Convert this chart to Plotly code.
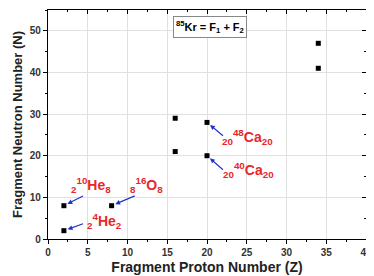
import plotly.graph_objects as go

# data
proton_z = [2, 2, 8, 16, 16, 20, 20, 34, 34]
neutron_n = [2, 8, 8, 21, 29, 20, 28, 41, 47]

# labelled fragments
label_texts = ["<sub>2</sub><sup>10</sup>He<sub>8</sub>", "<sub>2</sub><sup>4</sup>He<sub>2</sub>",
               "<sub>8</sub><sup>16</sup>O<sub>8</sub>", "<sub>20</sub><sup>48</sup>Ca<sub>20</sub>",
               "<sub>20</sub><sup>40</sup>Ca<sub>20</sub>"]
label_pt_x = [2, 2, 8, 20, 20]
label_pt_y = [8, 2, 8, 28, 20]
tail_x = [4.6, 4.6, 11.1, 22.2, 22.2]
tail_y = [10.5, 3.8, 10.5, 24.5, 16.3]
text_x = [2.6, 4.7, 10.0, 21.6, 21.8]
text_y = [13.0, 4.3, 13.0, 24.5, 16.6]

FONT = "Liberation Sans, Arial, sans-serif"

fig = go.Figure()
fig.add_trace(go.Scatter(x=proton_z, y=neutron_n, mode="markers",
                         marker=dict(symbol="square", size=5, color="black"),
                         showlegend=False, hoverinfo="skip"))
# invisible trace for the top/right mirrored axes
fig.add_trace(go.Scatter(x=[0], y=[0], xaxis="x2", yaxis="y2", mode="markers",
                         marker=dict(opacity=0), showlegend=False, hoverinfo="skip"))

for i in range(len(label_texts)):
    fig.add_annotation(x=label_pt_x[i], y=label_pt_y[i], ax=tail_x[i], ay=tail_y[i],
                       xref="x", yref="y", axref="x", ayref="y", text="",
                       showarrow=True, arrowhead=2, arrowsize=0.8, arrowwidth=1.2,
                       arrowcolor="#2233cc", standoff=4)
    fig.add_annotation(x=text_x[i], y=text_y[i], xref="x", yref="y", text=label_texts[i],
                       showarrow=False, xanchor="left", yanchor="middle",
                       font=dict(family=FONT, size=14, color="#e8262b", weight="bold"))

fig.add_annotation(x=20.4, y=50.8, xref="x", yref="y",
                   text="<sup>85</sup>Kr = F<sub>1</sub> + F<sub>2</sub>",
                   showarrow=False, font=dict(family=FONT, size=11, color="black", weight="bold"),
                   bordercolor="#888888", borderwidth=1, bgcolor="white", borderpad=2)

axis_common = dict(showline=True, linecolor="black", linewidth=1.2,
                   gridcolor="#e0e0e0", gridwidth=1, zeroline=False,
                   tickfont=dict(family=FONT, size=10, color="#333333", weight="bold"),
                   ticklen=4, tickwidth=1, tickcolor="black")

# page body has an 8px margin, so the figure is sized to fill the remaining window
fig.update_layout(
    width=366, height=268, paper_bgcolor="white", plot_bgcolor="white",
    margin=dict(l=40, r=4, t=2, b=37),
    xaxis=dict(range=[0, 40], dtick=5, ticks="outside", ticklabeloverflow="allow",
               minor=dict(dtick=2.5, ticks="outside", ticklen=2, tickcolor="black", showgrid=False),
               title=dict(text="Fragment Proton Number (Z)", standoff=5,
                          font=dict(family=FONT, size=14, color="#222222", weight="bold")),
               **axis_common),
    yaxis=dict(range=[0, 55], dtick=10, ticks="outside",
               minor=dict(dtick=5, ticks="outside", ticklen=2, tickcolor="black", showgrid=False),
               title=dict(text="Fragment Neutron Number (N)", standoff=4,
                          font=dict(family=FONT, size=13, color="#222222", weight="bold")),
               **axis_common),
    xaxis2=dict(range=[0, 40], dtick=5, overlaying="x", side="top", ticks="inside",
                showticklabels=False, showgrid=False, showline=True, linecolor="black",
                linewidth=1.2, ticklen=4, tickcolor="black", zeroline=False,
                minor=dict(dtick=2.5, ticks="inside", ticklen=2, tickcolor="black")),
    yaxis2=dict(range=[0, 55], dtick=10, overlaying="y", side="right", ticks="inside",
                showticklabels=False, showgrid=False, showline=True, linecolor="black",
                linewidth=1.2, ticklen=4, tickcolor="black", zeroline=False,
                minor=dict(dtick=5, ticks="inside", ticklen=2, tickcolor="black")),
)

fig.write_html("out.html")
